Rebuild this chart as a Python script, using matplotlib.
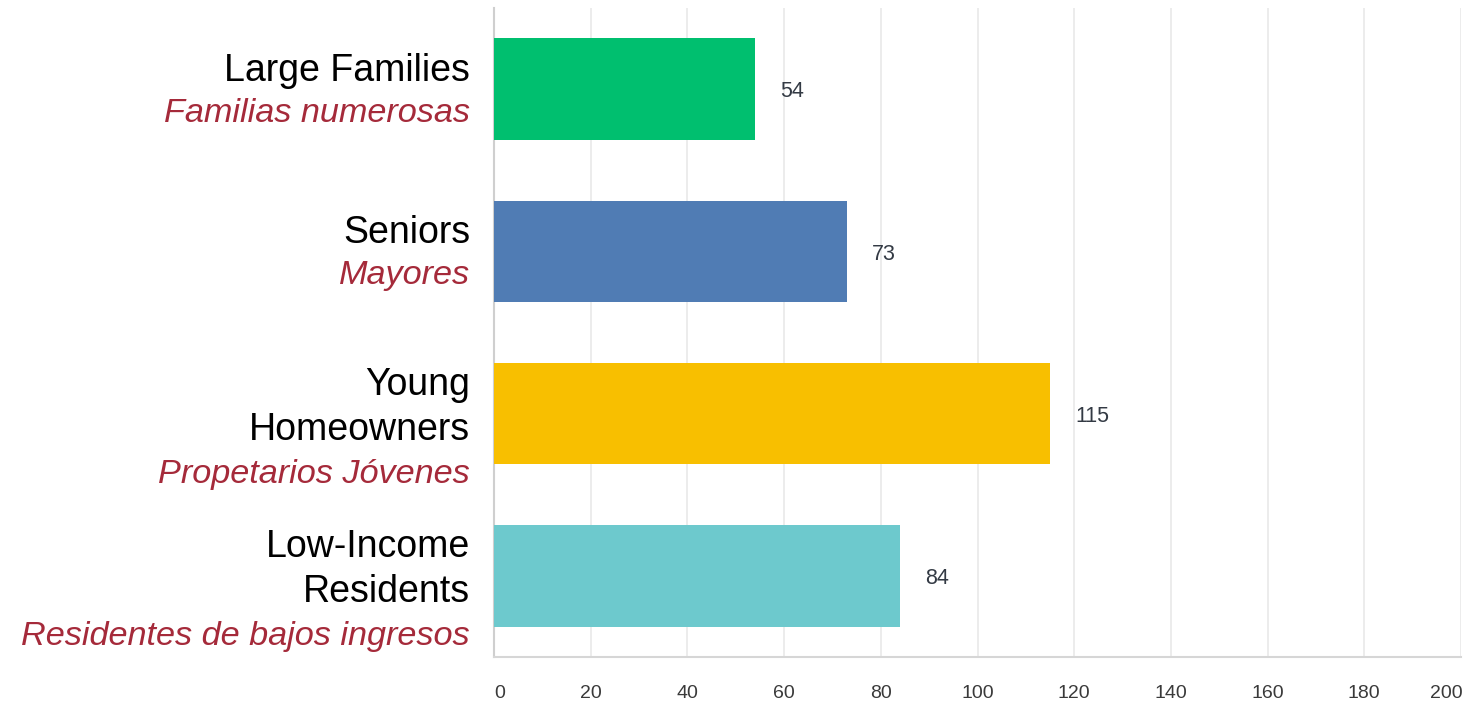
import matplotlib
matplotlib.use("Agg")
import matplotlib.pyplot as plt

categories_en = [["Large Families"], ["Seniors"], ["Young", "Homeowners"], ["Low-Income", "Residents"]]
categories_es = ["Familias numerosas", "Mayores", "Propetarios Jóvenes", "Residentes de bajos ingresos"]
values = [54, 73, 115, 84]
colors = ["#00BF6F", "#507CB4", "#F8BF00", "#6DC9CD"]
xticks = [0, 20, 40, 60, 80, 100, 120, 140, 160, 180, 200]

plt.rcParams['font.family'] = ['Liberation Sans', 'DejaVu Sans']

fig = plt.figure(figsize=(14.68, 7.07), dpi=100)
ax = fig.add_axes([494/1468, 50/707, (1461-494)/1468, (657-8)/707])

ys = list(range(len(values)))
ax.barh(ys, values, height=0.625, color=colors, zorder=3)
ax.set_xlim(0, 200)
ax.set_ylim(3.5, -0.5)
ax.set_xticks(xticks)
ax.set_xticklabels([])
ax.tick_params(axis='both', length=0)
ax.set_yticks([])
ax.grid(axis='x', color='#e9e9e9', linewidth=1.2, zorder=0)
for s in ['top', 'right']:
    ax.spines[s].set_visible(False)
ax.spines['left'].set_color('#cfcfcf')
ax.spines['left'].set_linewidth(1.5)
ax.spines['bottom'].set_color('#d6d6d6')
ax.spines['bottom'].set_linewidth(1.5)

# x tick labels
for i, t in enumerate(xticks):
    dx = 0
    if i == 0:
        dx = 6
    if i == len(xticks) - 1:
        dx = -15
    ax.annotate(str(t), xy=(t, 3.5), xycoords='data', xytext=(dx * 0.72, -26),
                textcoords='offset points', ha='center', va='center', fontsize=14,
                color='#3a3a3a')

# value labels
for y, v in zip(ys, values):
    ax.annotate(str(v), xy=(v, y), xytext=(18, -2), textcoords='offset points',
                ha='left', va='center', fontsize=15.5, color='#333a44')

# category labels
for y, en, es in zip(ys, categories_en, categories_es):
    lines = [(l, 'black', 'normal', 27) for l in en] + [(es, '#A52A3A', 'italic', 24.7)]
    n = len(lines)
    start = -18 if n == 2 else -29
    step = 42 if n == 2 else 45
    for k, (txt, col, style, fs) in enumerate(lines):
        off = start + k * step
        ax.annotate(txt, xy=(0, y), xytext=(-24 * 0.72, -off * 0.72),
                    textcoords='offset points', ha='right', va='center',
                    fontsize=fs, color=col, style=style, annotation_clip=False)

fig.savefig("out.png", dpi=100)
